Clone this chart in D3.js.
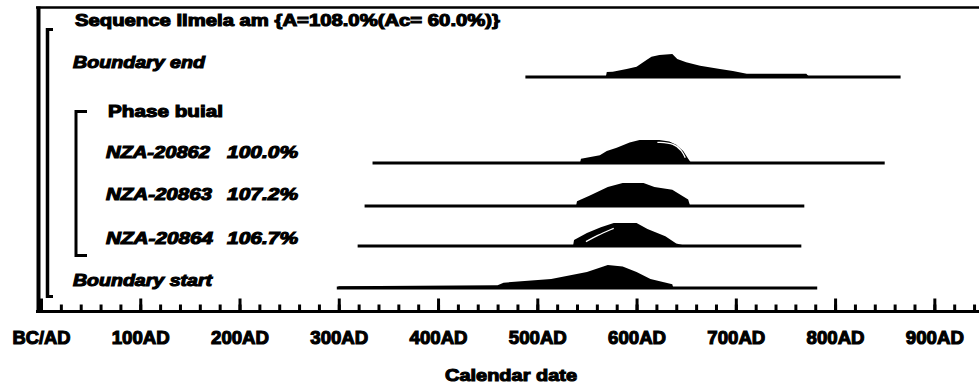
<!DOCTYPE html>
<html>
<head>
<meta charset="utf-8">
<script src="https://cdn.jsdelivr.net/npm/d3@7"></script>
<style>
  html, body { margin: 0; padding: 0; background: #fff; }
  svg { display: block; }
  text { font-family: "Liberation Sans", Arial, sans-serif; font-weight: bold; fill: #000; }
</style>
</head>
<body>
<svg id="chart" width="979" height="387"></svg>
<script>
// ---------- data ----------
const rowNames = ["Sequence Ilmela am {A=108.0%(Ac= 60.0%)}", "Boundary end", "Phase buial",
                  "NZA-20862", "NZA-20863", "NZA-20864", "Boundary start"];
const rowAgreement = ["", "", "", "100.0%", "107.2%", "106.7%", ""];

const majorYears = [0, 100, 200, 300, 400, 500, 600, 700, 800, 900];
const tickLabels = ["BC/AD", "100AD", "200AD", "300AD", "400AD", "500AD", "600AD", "700AD", "800AD", "900AD"];
const minorYears = d3.range(0, 960, 20);
const axisTitle = "Calendar date";

// plotted ranges (start, end) of each distribution row
const rangeStart = [488, 334, 326, 319, 298];
const rangeEnd   = [866, 850, 769, 766, 782];

// posterior densities (relative, %)
const endYears   = [569, 570, 576, 590, 600, 610, 615, 623, 636, 641, 650, 664, 684, 697, 711, 771, 774];
const endProb    = [0, 22, 23, 35, 45, 74, 88, 96, 100, 78, 64, 49, 35, 26, 14, 14, 0];
const n62Years   = [543, 544, 563, 570, 580, 593, 603, 623, 633, 640, 647, 652, 655];
const n62Prob    = [0, 18, 34, 52, 66, 89, 100, 100, 93, 79, 52, 18, 0];
const n63Years   = [539, 540, 553, 571, 586, 607, 618, 636, 652, 654];
const n63Prob    = [0, 21, 46, 83, 100, 100, 83, 71, 28, 0];
const n64Years   = [536, 537, 550, 564, 577, 600, 611, 629, 640, 650];
const n64Prob    = [0, 26, 57, 82, 100, 100, 74, 42, 11, 0];
const startYears = [298, 300, 460, 466, 514, 550, 571, 586, 600, 614, 636, 637];
const startProb  = [0, 8, 12, 23, 39, 70, 100, 93, 70, 39, 16, 0];

// prior (unmodelled) outlines visible inside the filled shapes
const n62PriorYears = [621, 638, 646, 649];
const n62PriorProb  = [90, 86, 52, 23];
const n64PriorYears = [549, 560, 577];
const n64PriorProb  = [19, 45, 77];

// ---------- layout ----------
const svg = d3.select("#chart");
const x = d3.scaleLinear().domain([0, 946]).range([41, 980]);
const axisY = 311.5;
const peakH = 23;
const h = d3.scaleLinear().domain([0, 100]).range([0, peakH]);

const labelY = [20, 62, 111, 152, 194, 238, 280];
const labelX = [75, 73, 108, 106, 106, 106, 73];
const labelW = [425, 132, 115, 104, 106, 107, 139];
const italic = [false, true, false, true, true, true, true];
const agreeX = 227, agreeW = 71;
const textStroke = 1.1;

const distRows = [
  { years: endYears,   prob: endProb,   base: 77 },
  { years: n62Years,   prob: n62Prob,   base: 163 },
  { years: n63Years,   prob: n63Prob,   base: 206 },
  { years: n64Years,   prob: n64Prob,   base: 246 },
  { years: startYears, prob: startProb, base: 288 }
];
const priors = [
  { years: n62PriorYears, prob: n62PriorProb, base: 163 },
  { years: n64PriorYears, prob: n64PriorProb, base: 246 }
];

// ---------- frame & brackets ----------
const g = svg.append("g");
const line = (x1, y1, x2, y2, w) => g.append("line")
  .attr("x1", x1).attr("y1", y1).attr("x2", x2).attr("y2", y2)
  .attr("stroke", "#000").attr("stroke-width", w);

line(36, 7.5, 979, 7.5, 2.5);          // top border
line(38.5, 6.5, 38.5, 313, 4);         // left border
// sequence bracket
line(47.5, 28, 47.5, 298, 3.5);
line(46, 29.5, 53, 29.5, 3);
line(46, 296.5, 53, 296.5, 3);
// phase bracket
line(76, 110, 76, 257, 3);
line(75, 111.5, 87, 111.5, 3);
line(75, 255.5, 87, 255.5, 3);

// ---------- distributions ----------
distRows.forEach((r, i) => {
  const pts = r.years.map((y, k) => ({ year: y, p: r.prob[k] }));
  g.append("path")
    .datum(pts)
    .attr("d", d3.area().x(d => x(d.year)).y0(r.base).y1(d => r.base - h(d.p)))
    .attr("fill", "#000");
  g.append("line")
    .attr("x1", x(rangeStart[i])).attr("x2", x(rangeEnd[i]))
    .attr("y1", r.base).attr("y2", r.base)
    .attr("stroke", "#000").attr("stroke-width", 3);
});
priors.forEach(r => {
  const pts = r.years.map((y, k) => ({ year: y, p: r.prob[k] }));
  g.append("path")
    .datum(pts)
    .attr("d", d3.line().x(d => x(d.year)).y(d => r.base - h(d.p)).curve(d3.curveBasis))
    .attr("fill", "none").attr("stroke", "#fff").attr("stroke-width", 1.3);
});

// ---------- labels ----------
rowNames.forEach((t, i) => {
  g.append("text")
    .attr("x", labelX[i]).attr("y", labelY[i])
    .attr("dy", "0.35em")
    .attr("font-size", 16.5)
    .attr("font-style", italic[i] ? "italic" : "normal")
    .attr("stroke", "#000").attr("stroke-width", textStroke)
    .attr("textLength", labelW[i]).attr("lengthAdjust", "spacingAndGlyphs")
    .text(t);
  if (rowAgreement[i]) {
    g.append("text")
      .attr("x", agreeX).attr("y", labelY[i])
      .attr("dy", "0.35em")
      .attr("font-size", 16.5)
      .attr("font-style", "italic")
      .attr("stroke", "#000").attr("stroke-width", textStroke)
      .attr("textLength", agreeW).attr("lengthAdjust", "spacingAndGlyphs")
      .text(rowAgreement[i]);
  }
});

// ---------- axis ----------
const axisG = svg.append("g").attr("transform", `translate(0,${axisY})`);
axisG.append("line").attr("x1", 36).attr("x2", 979).attr("y1", 0).attr("y2", 0)
  .attr("stroke", "#000").attr("stroke-width", 3);

const minorAxis = svg.append("g").attr("transform", `translate(0,${axisY})`)
  .call(d3.axisBottom(x).tickValues(minorYears).tickSizeInner(-7).tickSizeOuter(0).tickFormat(""));
minorAxis.select(".domain").remove();
minorAxis.selectAll(".tick line").attr("stroke", "#000").attr("stroke-width", 3);

const majorAxis = svg.append("g").attr("transform", `translate(0,${axisY})`)
  .call(d3.axisBottom(x).tickValues(majorYears).tickSizeInner(-13).tickSizeOuter(0)
        .tickFormat((d, i) => tickLabels[i]));
majorAxis.select(".domain").remove();
majorAxis.selectAll(".tick line").attr("stroke", "#000").attr("stroke-width", 3);
majorAxis.selectAll(".tick text")
  .attr("y", 26.5).attr("dy", "0.35em")
  .attr("font-size", 18)
  .attr("font-family", "'Liberation Sans', Arial, sans-serif")
  .attr("font-weight", "bold")
  .attr("fill", "#000")
  .attr("stroke", "#000").attr("stroke-width", textStroke)
  .attr("textLength", 58).attr("lengthAdjust", "spacingAndGlyphs");

svg.append("text")
  .attr("x", 511).attr("y", 375).attr("dy", "0.35em")
  .attr("text-anchor", "middle")
  .attr("font-size", 17)
  .attr("stroke", "#000").attr("stroke-width", textStroke)
  .attr("textLength", 132).attr("lengthAdjust", "spacingAndGlyphs")
  .text(axisTitle);
</script>
</body>
</html>
